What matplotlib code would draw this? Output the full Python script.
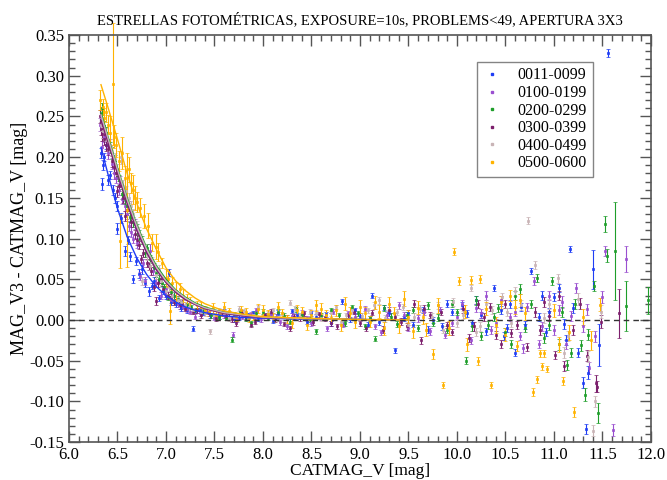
import matplotlib
matplotlib.use("Agg")
import matplotlib.pyplot as plt
from matplotlib.lines import Line2D
from matplotlib.ticker import MultipleLocator, FormatStrFormatter

plt.rcParams["font.family"] = ["Liberation Serif", "DejaVu Serif"]

# (CATMAG_V, MAG_V3 - CATMAG_V, error)
S0011 = [
    (6.34, 0.167, 0.007), (6.33, 0.205, 0.006), (6.36, 0.200, 0.005), (6.38, 0.215, 0.005),
    (6.42, 0.178, 0.005), (6.45, 0.160, 0.006), (6.50, 0.140, 0.006), (6.50, 0.112, 0.007),
    (6.58, 0.085, 0.006), (6.63, 0.078, 0.006), (6.66, 0.050, 0.005), (6.72, 0.057, 0.006),
    (6.78, 0.045, 0.005), (6.83, 0.035, 0.005), (6.88, 0.048, 0.005), (6.93, 0.027, 0.004),
    (7.00, 0.030, 0.004), (7.03, 0.058, 0.004), (7.05, 0.022, 0.004), (7.15, 0.015, 0.004),
    (7.22, 0.012, 0.003), (7.28, -0.011, 0.003), (7.30, 0.011, 0.003), (7.38, 0.009, 0.003),
    (7.45, 0.006, 0.003), (7.55, 0.004, 0.003), (7.65, 0.008, 0.003), (7.75, 0.003, 0.003),
    (7.85, 0.006, 0.003), (7.95, 0.002, 0.003), (8.05, 0.005, 0.003), (8.15, 0.009, 0.003),
    (8.25, 0.003, 0.003), (8.35, 0.006, 0.003), (8.45, -0.002, 0.003), (8.55, 0.004, 0.003),
    (8.65, 0.007, 0.003), (8.81, 0.023, 0.003), (8.90, 0.001, 0.003), (9.00, 0.005, 0.003),
    (9.12, 0.030, 0.003), (9.20, -0.003, 0.003), (9.30, 0.008, 0.003), (9.36, -0.037, 0.003),
    (9.45, 0.002, 0.003), (9.55, -0.006, 0.003), (9.65, 0.012, 0.004), (9.75, 0.000, 0.004),
    (9.85, -0.008, 0.004), (9.95, 0.010, 0.004), (10.05, 0.018, 0.004), (10.15, -0.004, 0.004),
    (10.25, 0.006, 0.004), (10.38, 0.039, 0.004), (10.45, 0.012, 0.005), (10.52, -0.010, 0.005),
    (10.60, -0.040, 0.004), (10.66, 0.016, 0.005), (10.76, 0.060, 0.004), (10.85, 0.004, 0.005),
    (10.92, -0.015, 0.005), (11.00, 0.028, 0.005), (11.05, 0.039, 0.005), (11.10, -0.005, 0.006),
    (11.16, 0.087, 0.004), (11.20, 0.015, 0.006), (11.30, -0.077, 0.007), (11.35, -0.065, 0.008),
    (11.33, -0.134, 0.006), (11.40, 0.062, 0.024), (11.46, -0.031, 0.026), (11.56, 0.328, 0.005),
    (7.60, 0.010, 0.003), (7.70, 0.001, 0.003), (7.90, 0.008, 0.003), (8.10, -0.001, 0.003),
    (8.30, 0.011, 0.003), (8.50, 0.008, 0.003), (8.70, -0.004, 0.003), (8.95, 0.012, 0.003),
    (9.08, -0.006, 0.003), (9.25, 0.015, 0.003), (9.50, 0.009, 0.003), (9.70, -0.012, 0.004),
    (9.90, 0.020, 0.004), (10.10, 0.008, 0.004), (10.30, -0.014, 0.004), (10.55, 0.020, 0.005),
    (10.70, -0.006, 0.005), (10.95, 0.010, 0.005), (11.12, -0.025, 0.006), (11.25, -0.040, 0.006),
    (6.35, 0.190, 0.006), (6.40, 0.172, 0.006), (6.47, 0.150, 0.006), (6.54, 0.125, 0.006),
    (6.61, 0.098, 0.005), (6.69, 0.072, 0.005), (6.75, 0.062, 0.005), (6.86, 0.042, 0.004),
    (6.97, 0.036, 0.004), (7.10, 0.020, 0.004), (7.20, 0.016, 0.003), (7.35, 0.012, 0.003),
    (10.20, 0.025, 0.005), (10.48, -0.020, 0.005), (10.88, 0.030, 0.006),
]
S0100 = [
    (6.32, 0.240, 0.008), (6.34, 0.212, 0.008), (6.36, 0.225, 0.007), (6.40, 0.205, 0.007),
    (6.44, 0.192, 0.007), (6.48, 0.175, 0.007), (6.52, 0.160, 0.007), (6.55, 0.148, 0.006),
    (6.60, 0.130, 0.006), (6.62, 0.115, 0.006), (6.66, 0.100, 0.006), (6.70, 0.095, 0.006),
    (6.73, 0.054, 0.005), (6.78, 0.048, 0.005), (6.84, 0.085, 0.008), (6.90, 0.045, 0.005),
    (6.95, 0.030, 0.004), (7.00, 0.038, 0.004), (7.05, 0.025, 0.004), (7.12, 0.020, 0.004),
    (7.18, 0.016, 0.003), (7.25, 0.010, 0.003), (7.35, 0.008, 0.003), (7.42, 0.010, 0.003),
    (7.50, 0.003, 0.003), (7.60, 0.006, 0.003), (7.69, -0.018, 0.003), (7.78, 0.004, 0.003),
    (7.88, 0.007, 0.003), (7.98, 0.001, 0.003), (8.08, 0.006, 0.003), (8.18, -0.003, 0.003),
    (8.30, 0.005, 0.003), (8.40, 0.009, 0.003), (8.50, -0.004, 0.003), (8.60, 0.003, 0.003),
    (8.72, 0.010, 0.003), (8.82, -0.006, 0.003), (8.95, 0.004, 0.003), (9.05, 0.014, 0.003),
    (9.15, -0.008, 0.003), (9.28, 0.006, 0.004), (9.40, 0.018, 0.004), (9.50, -0.010, 0.004),
    (9.60, 0.002, 0.004), (9.72, -0.014, 0.004), (9.82, 0.012, 0.004), (9.95, -0.004, 0.004),
    (10.05, 0.020, 0.005), (10.14, -0.025, 0.004), (10.25, 0.008, 0.005), (10.35, -0.012, 0.005),
    (10.45, 0.025, 0.005), (10.55, 0.004, 0.005), (10.65, -0.020, 0.005), (10.72, 0.016, 0.005),
    (10.79, 0.048, 0.005), (10.88, -0.008, 0.006), (10.95, 0.030, 0.006), (11.05, 0.012, 0.006),
    (11.12, -0.030, 0.006), (11.23, 0.039, 0.006), (11.30, -0.008, 0.007), (11.34, 0.013, 0.007),
    (11.36, -0.059, 0.007), (11.42, -0.020, 0.007), (11.50, 0.028, 0.007), (11.53, 0.085, 0.006),
    (11.61, -0.135, 0.007), (11.74, 0.075, 0.016),
    (7.55, 0.009, 0.003), (7.73, 0.001, 0.003), (7.93, 0.012, 0.003), (8.13, 0.004, 0.003),
    (8.25, -0.008, 0.003), (8.45, 0.002, 0.003), (8.66, -0.010, 0.003), (8.88, 0.008, 0.003),
    (9.10, 0.002, 0.003), (9.22, -0.015, 0.003), (9.45, 0.006, 0.004), (9.66, 0.010, 0.004),
    (9.88, -0.018, 0.004), (10.00, 0.004, 0.004), (10.20, 0.015, 0.005), (10.40, -0.004, 0.005),
    (10.60, 0.010, 0.005), (10.85, -0.030, 0.005), (11.00, -0.012, 0.006), (11.18, 0.005, 0.006),
    (6.35, 0.232, 0.008), (6.42, 0.215, 0.007), (6.46, 0.180, 0.007), (6.53, 0.170, 0.007),
    (6.58, 0.140, 0.006), (6.64, 0.108, 0.006), (6.68, 0.118, 0.006), (6.76, 0.070, 0.005),
    (6.87, 0.060, 0.005), (6.99, 0.032, 0.004), (7.08, 0.030, 0.004), (7.22, 0.014, 0.004),
    (7.30, 0.004, 0.003), (10.30, 0.030, 0.005), (10.68, -0.035, 0.006), (11.08, 0.022, 0.007),
]
S0200 = [
    (6.34, 0.260, 0.007), (6.34, 0.245, 0.007), (6.38, 0.230, 0.007), (6.42, 0.212, 0.007),
    (6.47, 0.196, 0.007), (6.50, 0.180, 0.006), (6.55, 0.155, 0.006), (6.60, 0.140, 0.006),
    (6.63, 0.126, 0.006), (6.70, 0.112, 0.006), (6.75, 0.098, 0.005), (6.80, 0.088, 0.005),
    (6.84, 0.075, 0.005), (6.88, 0.065, 0.005), (6.93, 0.050, 0.005), (6.98, 0.040, 0.004),
    (7.02, 0.028, 0.004), (7.08, 0.030, 0.004), (7.15, 0.022, 0.004), (7.22, 0.018, 0.003),
    (7.30, 0.012, 0.003), (7.38, 0.010, 0.003), (7.46, 0.006, 0.003), (7.55, 0.004, 0.003),
    (7.68, -0.024, 0.003), (7.70, 0.007, 0.003), (7.82, 0.002, 0.003), (7.93, 0.008, 0.003),
    (8.05, 0.003, 0.003), (8.15, 0.010, 0.003), (8.28, -0.002, 0.003), (8.40, 0.006, 0.003),
    (8.55, -0.014, 0.003), (8.60, 0.005, 0.003), (8.70, 0.012, 0.003), (8.85, -0.004, 0.003),
    (8.98, 0.008, 0.003), (9.10, 0.002, 0.003), (9.15, -0.023, 0.003), (9.25, 0.015, 0.004),
    (9.38, -0.005, 0.004), (9.48, 0.006, 0.004), (9.60, -0.010, 0.004), (9.70, 0.018, 0.004),
    (9.80, 0.003, 0.004), (9.90, -0.012, 0.004), (10.00, 0.010, 0.004), (10.09, -0.050, 0.004),
    (10.20, 0.024, 0.005), (10.32, -0.006, 0.005), (10.42, 0.015, 0.005), (10.50, -0.015, 0.005),
    (10.60, 0.030, 0.005), (10.70, -0.010, 0.005), (10.83, 0.052, 0.005), (10.90, -0.022, 0.006),
    (10.98, 0.048, 0.005), (11.08, 0.010, 0.006), (11.13, -0.055, 0.006), (11.22, 0.020, 0.006),
    (11.28, -0.031, 0.007), (11.32, -0.092, 0.008), (11.35, -0.018, 0.007), (11.41, 0.042, 0.006),
    (11.45, -0.114, 0.012), (11.53, 0.118, 0.010), (11.55, 0.079, 0.008), (11.63, 0.085, 0.060),
    (11.74, 0.017, 0.031), (11.97, 0.024, 0.017),
    (7.62, 0.003, 0.003), (7.76, 0.010, 0.003), (7.88, -0.004, 0.003), (8.00, 0.010, 0.003),
    (8.22, 0.005, 0.003), (8.34, 0.013, 0.003), (8.48, 0.001, 0.003), (8.78, 0.006, 0.003),
    (8.92, 0.016, 0.003), (9.05, -0.008, 0.003), (9.32, 0.004, 0.004), (9.55, 0.012, 0.004),
    (9.75, -0.004, 0.004), (9.95, 0.020, 0.004), (10.15, -0.008, 0.005), (10.38, 0.004, 0.005),
    (10.56, -0.030, 0.005), (10.76, 0.020, 0.005), (10.95, -0.006, 0.006), (11.18, -0.040, 0.006),
    (6.36, 0.238, 0.007), (6.44, 0.205, 0.007), (6.52, 0.172, 0.006), (6.58, 0.148, 0.006),
    (6.66, 0.120, 0.006), (6.72, 0.104, 0.006), (6.78, 0.082, 0.005), (6.90, 0.058, 0.005),
    (6.96, 0.046, 0.004), (7.05, 0.034, 0.004), (7.12, 0.026, 0.004), (7.26, 0.016, 0.003),
    (10.25, -0.020, 0.005), (10.65, 0.038, 0.006), (11.05, -0.030, 0.007),
]
S0300 = [
    (6.32, 0.250, 0.008), (6.33, 0.235, 0.008), (6.36, 0.222, 0.007), (6.40, 0.210, 0.007),
    (6.44, 0.195, 0.007), (6.48, 0.180, 0.007), (6.52, 0.165, 0.006), (6.56, 0.150, 0.006),
    (6.60, 0.135, 0.006), (6.64, 0.120, 0.006), (6.68, 0.105, 0.006), (6.72, 0.092, 0.005),
    (6.76, 0.082, 0.005), (6.80, 0.070, 0.005), (6.85, 0.060, 0.005), (6.90, 0.023, 0.005),
    (6.92, 0.045, 0.005), (6.97, 0.038, 0.004), (7.02, 0.030, 0.004), (7.08, 0.022, 0.004),
    (7.14, 0.018, 0.004), (7.20, 0.014, 0.003), (7.28, 0.010, 0.003), (7.36, 0.006, 0.003),
    (7.44, 0.008, 0.003), (7.52, 0.002, 0.003), (7.62, 0.005, 0.003), (7.72, -0.004, 0.003),
    (7.82, 0.004, 0.003), (7.92, -0.002, 0.003), (8.02, 0.006, 0.003), (8.12, 0.001, 0.003),
    (8.22, -0.005, 0.003), (8.32, 0.004, 0.003), (8.42, 0.008, 0.003), (8.52, -0.003, 0.003),
    (8.64, 0.002, 0.003), (8.76, -0.008, 0.003), (8.88, 0.006, 0.003), (9.00, -0.004, 0.003),
    (9.12, 0.009, 0.003), (9.24, -0.012, 0.004), (9.36, 0.004, 0.004), (9.48, -0.008, 0.004),
    (9.56, 0.020, 0.004), (9.63, -0.025, 0.004), (9.72, 0.006, 0.004), (9.84, 0.010, 0.004),
    (9.95, -0.015, 0.004), (10.06, 0.014, 0.005), (10.18, -0.008, 0.005), (10.28, 0.004, 0.005),
    (10.40, -0.018, 0.005), (10.50, 0.020, 0.005), (10.62, -0.006, 0.005), (10.72, -0.033, 0.005),
    (10.80, 0.010, 0.006), (10.90, 0.022, 0.006), (11.01, -0.043, 0.005), (11.10, -0.057, 0.006),
    (11.20, -0.012, 0.006), (11.27, 0.020, 0.007), (11.34, -0.044, 0.007), (11.43, -0.078, 0.010),
    (11.44, -0.082, 0.007), (11.48, -0.002, 0.008), (11.67, 0.008, 0.030),
    (7.58, 0.008, 0.003), (7.68, 0.001, 0.003), (7.78, 0.009, 0.003), (7.88, -0.006, 0.003),
    (8.08, 0.010, 0.003), (8.28, -0.010, 0.003), (8.38, 0.002, 0.003), (8.58, 0.007, 0.003),
    (8.70, -0.004, 0.003), (8.94, 0.010, 0.003), (9.06, -0.010, 0.003), (9.30, 0.012, 0.004),
    (9.42, -0.002, 0.004), (9.66, 0.014, 0.004), (9.90, -0.006, 0.004), (10.12, -0.022, 0.005),
    (10.34, 0.016, 0.005), (10.56, -0.016, 0.005), (10.86, -0.012, 0.006), (11.05, 0.030, 0.006),
    (6.34, 0.228, 0.008), (6.38, 0.215, 0.007), (6.46, 0.188, 0.007), (6.50, 0.158, 0.007),
    (6.58, 0.128, 0.006), (6.62, 0.140, 0.006), (6.70, 0.098, 0.006), (6.74, 0.075, 0.005),
    (6.82, 0.066, 0.005), (6.88, 0.040, 0.005), (6.95, 0.050, 0.005), (7.05, 0.028, 0.004),
    (7.17, 0.020, 0.004), (7.32, 0.012, 0.003),
    (10.22, 0.020, 0.005), (10.45, -0.030, 0.005), (10.95, 0.005, 0.006),
]
S0400 = [
    (6.33, 0.240, 0.008), (6.38, 0.228, 0.008), (6.42, 0.215, 0.007), (6.47, 0.198, 0.007),
    (6.54, 0.200, 0.008), (6.56, 0.165, 0.007), (6.62, 0.150, 0.006), (6.66, 0.130, 0.006),
    (6.70, 0.115, 0.006), (6.74, 0.100, 0.006), (6.78, 0.088, 0.005), (6.75, 0.048, 0.005),
    (6.86, 0.072, 0.005), (6.90, 0.055, 0.005), (6.95, 0.048, 0.005), (7.00, 0.036, 0.004),
    (7.06, 0.030, 0.004), (7.12, 0.024, 0.004), (7.20, 0.018, 0.004), (7.28, 0.012, 0.003),
    (7.36, 0.010, 0.003), (7.45, -0.014, 0.003), (7.50, 0.006, 0.003), (7.60, 0.009, 0.003),
    (7.70, 0.004, 0.003), (7.80, 0.011, 0.003), (7.90, 0.006, 0.003), (8.00, 0.003, 0.003),
    (8.10, 0.012, 0.003), (8.20, 0.007, 0.003), (8.28, 0.021, 0.003), (8.38, 0.004, 0.003),
    (8.48, 0.010, 0.003), (8.60, 0.002, 0.003), (8.70, 0.008, 0.003), (8.80, -0.002, 0.003),
    (8.92, 0.012, 0.003), (9.02, 0.005, 0.003), (9.14, 0.018, 0.004), (9.26, 0.002, 0.004),
    (9.38, 0.010, 0.004), (9.50, -0.006, 0.004), (9.62, 0.014, 0.004), (9.74, 0.004, 0.004),
    (9.86, -0.012, 0.004), (9.96, 0.022, 0.005), (10.06, 0.006, 0.005), (10.14, 0.039, 0.004),
    (10.24, -0.008, 0.005), (10.36, 0.012, 0.005), (10.46, 0.028, 0.005), (10.56, -0.004, 0.005),
    (10.66, 0.018, 0.006), (10.73, 0.122, 0.004), (10.80, 0.067, 0.005), (10.90, 0.002, 0.006),
    (11.04, 0.051, 0.006), (11.14, -0.020, 0.006), (11.25, 0.026, 0.007), (11.35, -0.045, 0.007),
    (11.40, -0.136, 0.007), (11.42, -0.100, 0.007), (11.48, 0.010, 0.008),
    (7.55, 0.012, 0.003), (7.65, 0.002, 0.003), (7.75, 0.014, 0.003), (7.85, 0.003, 0.003),
    (7.95, 0.016, 0.003), (8.05, 0.008, 0.003), (8.15, 0.002, 0.003), (8.33, 0.014, 0.003),
    (8.55, 0.009, 0.003), (8.75, 0.016, 0.003), (8.86, 0.006, 0.003), (9.08, 0.012, 0.003),
    (9.20, 0.024, 0.004), (9.44, 0.016, 0.004), (9.56, 0.004, 0.004), (9.80, 0.018, 0.004),
    (10.00, -0.004, 0.005), (10.30, 0.020, 0.005), (10.52, 0.010, 0.005), (10.95, 0.020, 0.006),
    (6.35, 0.232, 0.008), (6.44, 0.208, 0.007), (6.50, 0.185, 0.007), (6.59, 0.158, 0.007),
    (6.64, 0.140, 0.006), (6.72, 0.108, 0.006), (6.80, 0.080, 0.006), (6.84, 0.066, 0.005),
    (6.93, 0.062, 0.005), (7.03, 0.040, 0.004), (7.16, 0.022, 0.004), (7.24, 0.016, 0.004),
    (7.40, 0.008, 0.003), (10.20, -0.015, 0.005), (10.60, 0.035, 0.006), (11.10, -0.040, 0.007),
]
S0500 = [
    (6.32, 0.270, 0.012), (6.35, 0.262, 0.010), (6.38, 0.255, 0.012), (6.42, 0.230, 0.020),
    (6.45, 0.290, 0.075), (6.48, 0.215, 0.015), (6.53, 0.097, 0.033), (6.55, 0.205, 0.020),
    (6.60, 0.135, 0.070), (6.62, 0.185, 0.015), (6.66, 0.160, 0.018), (6.70, 0.145, 0.012),
    (6.77, 0.128, 0.015), (6.81, 0.116, 0.015), (6.92, 0.084, 0.011), (6.96, 0.070, 0.006),
    (7.00, 0.052, 0.010), (7.02, 0.050, 0.010), (7.04, 0.011, 0.016), (7.10, 0.035, 0.012),
    (7.18, 0.030, 0.008), (7.25, 0.022, 0.006), (7.32, 0.018, 0.005), (7.40, 0.012, 0.005),
    (7.48, 0.015, 0.006), (7.56, 0.009, 0.004), (7.65, 0.011, 0.004), (7.72, 0.004, 0.005),
    (7.82, 0.010, 0.005), (7.90, 0.005, 0.005), (8.00, 0.012, 0.006), (8.10, 0.003, 0.005),
    (8.20, 0.008, 0.006), (8.30, -0.004, 0.006), (8.40, 0.010, 0.006), (8.50, 0.006, 0.006),
    (8.60, 0.014, 0.007), (8.70, 0.002, 0.006), (8.80, -0.006, 0.007), (8.90, 0.009, 0.007),
    (9.00, 0.016, 0.008), (9.10, -0.002, 0.007), (9.20, 0.010, 0.008), (9.30, 0.020, 0.008),
    (9.40, -0.008, 0.008), (9.50, 0.004, 0.008), (9.60, 0.015, 0.008), (9.68, -0.012, 0.008),
    (9.75, -0.042, 0.006), (9.86, -0.080, 0.004), (9.97, 0.084, 0.004), (10.02, 0.048, 0.005),
    (10.08, 0.010, 0.008), (10.14, 0.049, 0.005), (10.22, -0.050, 0.005), (10.24, 0.050, 0.005),
    (10.30, 0.014, 0.008), (10.35, -0.080, 0.004), (10.45, 0.022, 0.008), (10.50, -0.018, 0.008),
    (10.55, 0.030, 0.007), (10.62, -0.032, 0.006), (10.70, 0.008, 0.008), (10.78, -0.088, 0.005),
    (10.83, -0.073, 0.004), (10.86, -0.041, 0.004), (10.88, -0.057, 0.004), (10.90, -0.041, 0.004),
    (10.93, -0.060, 0.004), (11.00, 0.012, 0.008), (11.09, -0.075, 0.005), (11.15, -0.015, 0.009),
    (11.21, -0.113, 0.006), (11.30, 0.004, 0.010), (11.38, -0.025, 0.012), (11.47, 0.019, 0.008),
    (7.52, 0.006, 0.005), (7.60, 0.016, 0.006), (7.77, 0.012, 0.005), (7.86, 0.002, 0.005),
    (7.95, 0.014, 0.006), (8.05, 0.007, 0.005), (8.15, 0.016, 0.006), (8.25, 0.001, 0.005),
    (8.35, 0.012, 0.006), (8.45, -0.006, 0.006), (8.55, 0.018, 0.007), (8.65, 0.006, 0.006),
    (8.75, 0.012, 0.007), (8.85, 0.020, 0.008), (8.95, -0.003, 0.007), (9.05, 0.008, 0.008),
    (9.15, 0.022, 0.008), (9.25, -0.010, 0.008), (9.35, 0.008, 0.008), (9.45, 0.026, 0.009),
    (9.55, -0.014, 0.008), (9.65, 0.004, 0.009), (9.80, 0.018, 0.009), (9.92, -0.010, 0.009),
    (10.40, -0.006, 0.010), (10.60, 0.016, 0.009),
    (6.36, 0.248, 0.012), (6.40, 0.240, 0.012), (6.46, 0.225, 0.014), (6.52, 0.195, 0.012),
    (6.58, 0.175, 0.014), (6.64, 0.168, 0.012), (6.68, 0.150, 0.015), (6.73, 0.138, 0.012),
    (6.86, 0.095, 0.010), (6.90, 0.090, 0.015), (7.06, 0.045, 0.008), (7.14, 0.038, 0.008),
    (7.22, 0.026, 0.006), (7.36, 0.016, 0.006), (7.44, 0.010, 0.005),
    (10.10, -0.030, 0.008), (10.65, 0.024, 0.008), (11.05, -0.030, 0.009),
]

# fitted curves per group (they merge into the zero line past ~9)
FIT_X = [6.33, 6.40, 6.50, 6.60, 6.70, 6.80, 6.90, 7.00, 7.10, 7.20, 7.30, 7.40,
         7.60, 7.80, 8.00, 8.50, 9.00, 9.50]
FIT_0011 = [0.212, 0.180, 0.137, 0.102, 0.076, 0.056, 0.041, 0.030, 0.022, 0.016, 0.012,
            0.009, 0.005, 0.003, 0.002, 0.001, 0.0005, 0.0]
FIT_0100 = [0.250, 0.222, 0.182, 0.145, 0.112, 0.084, 0.062, 0.046, 0.034, 0.025, 0.019,
            0.014, 0.008, 0.005, 0.003, 0.0015, 0.0005, 0.0]
FIT_0200 = [0.255, 0.226, 0.187, 0.150, 0.117, 0.089, 0.067, 0.050, 0.037, 0.028, 0.021,
            0.016, 0.009, 0.006, 0.0035, 0.0015, 0.0005, 0.0]
FIT_0300 = [0.245, 0.219, 0.180, 0.143, 0.110, 0.083, 0.062, 0.046, 0.034, 0.025, 0.019,
            0.014, 0.008, 0.005, 0.003, 0.0015, 0.0005, 0.0]
FIT_0400 = [0.252, 0.224, 0.185, 0.148, 0.115, 0.087, 0.065, 0.048, 0.036, 0.027, 0.020,
            0.015, 0.009, 0.006, 0.0035, 0.0015, 0.0005, 0.0]
FIT_0500 = [0.289, 0.262, 0.222, 0.180, 0.143, 0.112, 0.087, 0.064, 0.048, 0.036, 0.027,
            0.020, 0.011, 0.007, 0.004, 0.002, 0.0005, 0.0]

GROUPS = ["0011-0099", "0100-0199", "0200-0299", "0300-0399", "0400-0499", "0500-0600"]
POINTS = [S0011, S0100, S0200, S0300, S0400, S0500]
FITS = [FIT_0011, FIT_0100, FIT_0200, FIT_0300, FIT_0400, FIT_0500]
COLORS = ["#1f3df5", "#9a4fd0", "#1e9e2a", "#7c1f6c", "#c9b4b6", "#ffb300"]

fig = plt.figure(figsize=(6.67, 4.8), dpi=100)
ax = fig.add_axes([0.1034, 0.079, 0.8726, 0.848])

for pts, col in zip(POINTS, COLORS):
    xs = [p[0] for p in pts]
    ys = [p[1] for p in pts]
    es = [p[2] for p in pts]
    ax.errorbar(xs, ys, yerr=es, fmt="s", ms=2.0, mew=0.5, mec=col, mfc=col, ecolor=col,
                elinewidth=0.8, capsize=1.2, capthick=0.8, clip_on=False, zorder=2)
for fit, col in zip(FITS, COLORS):
    ax.plot(FIT_X, fit, color=col, lw=1.0, zorder=3)

ax.axhline(0.0, color="#333333", lw=1.0, ls=(0, (4, 3)), zorder=4)

ax.set_xlim(6.0, 12.0)
ax.set_ylim(-0.15, 0.35)
ax.xaxis.set_major_locator(MultipleLocator(0.5))
ax.xaxis.set_minor_locator(MultipleLocator(0.1))
ax.yaxis.set_major_locator(MultipleLocator(0.05))
ax.yaxis.set_minor_locator(MultipleLocator(0.01))
ax.xaxis.set_major_formatter(FormatStrFormatter("%.1f"))
ax.yaxis.set_major_formatter(FormatStrFormatter("%.2f"))
ax.tick_params(which="both", direction="in", top=True, right=True, labelsize=12,
               color="#555555")
ax.tick_params(which="major", length=8, width=1)
ax.tick_params(which="minor", length=4, width=1)
for sp in ax.spines.values():
    sp.set_color("#555555")
    sp.set_linewidth(1.2)

ax.set_xlabel("CATMAG_V [mag]", fontsize=12.5, labelpad=0)
ax.set_ylabel("MAG_V3 - CATMAG_V [mag]", fontsize=13, labelpad=1)
fig.text(0.54, 1 - 24 / 480, "ESTRELLAS FOTOMÉTRICAS, EXPOSURE=10s, PROBLEMS<49, APERTURA 3X3",
         ha="center", va="baseline", fontsize=10.5)

handles = [Line2D([], [], ls="none", marker="s", ms=1.5, color=c) for c in COLORS]
leg = ax.legend(handles, GROUPS, loc="upper left", bbox_to_anchor=(0.701, 0.934),
                borderaxespad=0, fontsize=11.5, frameon=True, fancybox=False,
                borderpad=0.35, handletextpad=1.0, handlelength=1.2, labelspacing=0.1)
leg.get_frame().set_edgecolor("#666666")
leg.get_frame().set_linewidth(1.0)

fig.savefig("out.png", dpi=100)
